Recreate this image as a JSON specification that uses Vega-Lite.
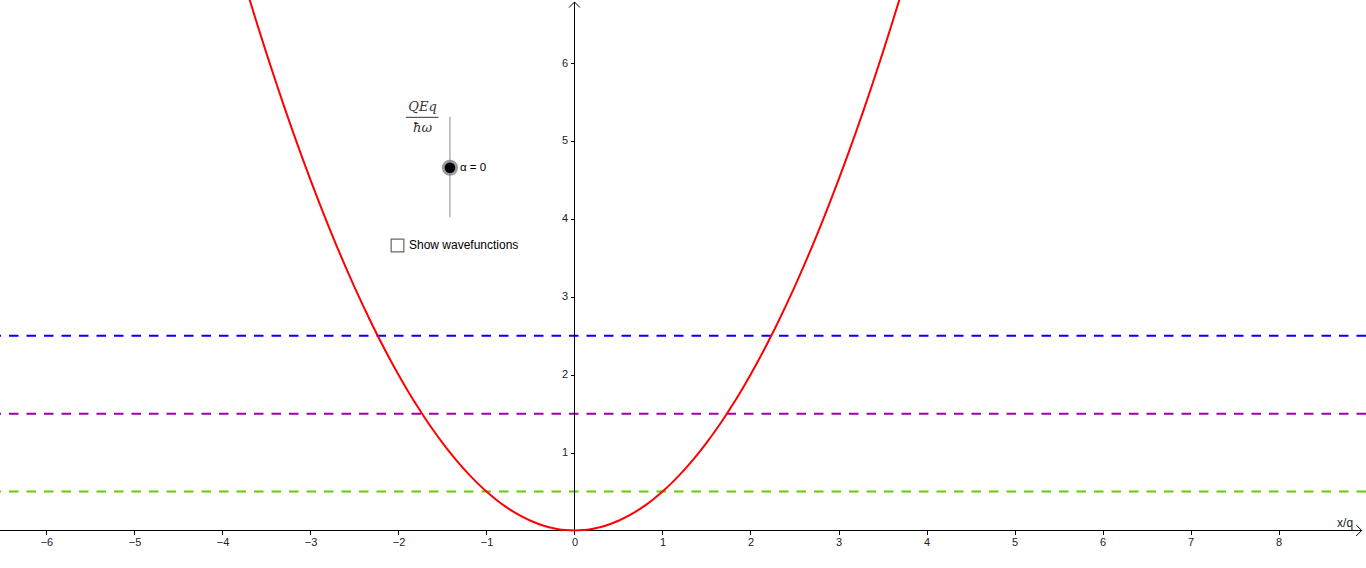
{
  "$schema": "https://vega.github.io/schema/vega-lite/v6.json",
  "width": 1366,
  "height": 568,
  "autosize": {"type": "none"},
  "padding": 0,
  "background": "white",
  "config": {"view": {"stroke": null}},
  "layer": [
    {
      "data": {"values": [
        {"E": 0.5, "level": "n0"},
        {"E": 1.5, "level": "n1"},
        {"E": 2.5, "level": "n2"}
      ]},
      "mark": {"type": "rule", "strokeWidth": 2, "strokeDash": [9.5, 8]},
      "encoding": {
        "y": {"field": "E", "type": "quantitative",
          "scale": {"domain": [-0.4814, 6.81], "nice": false, "zero": false},
          "axis": {"offset": -574.5, "values": [1, 2, 3, 4, 5, 6], "format": "d", "domain": false, "tickSize": 4, "labelPadding": 3, "grid": false, "title": null,
            "tickColor": "black", "labelFont": "Liberation Sans", "labelFontSize": 11, "labelColor": "#222",
            "labelFlush": false, "labelOverlap": false}},
        "color": {"field": "level", "type": "nominal", "legend": null,
          "scale": {"domain": ["n0", "n1", "n2"], "range": ["#66cc00", "#a000a8", "#0000ff"]}}
      }
    },
    {
      "data": {"values": [{"x": -6.528, "x2": 8.945, "y": 0}]},
      "mark": {"type": "rule", "color": "black", "strokeWidth": 1},
      "encoding": {"x": {"field": "x", "type": "quantitative"}, "x2": {"field": "x2"}, "y": {"field": "y", "type": "quantitative"}}
    },
    {
      "data": {"values": [{"x": 0, "y": 0, "y2": 6.784}]},
      "mark": {"type": "rule", "color": "black", "strokeWidth": 1},
      "encoding": {"x": {"field": "x", "type": "quantitative"}, "y": {"field": "y", "type": "quantitative"}, "y2": {"field": "y2"}}
    },
    {
      "data": {"values": [
        {"x": -3.8, "y": 7.22}, {"x": -3.7, "y": 6.845}, {"x": -3.6, "y": 6.48}, {"x": -3.5, "y": 6.125},
        {"x": -3.4, "y": 5.78}, {"x": -3.3, "y": 5.445}, {"x": -3.2, "y": 5.12}, {"x": -3.1, "y": 4.805},
        {"x": -3.0, "y": 4.5}, {"x": -2.9, "y": 4.205}, {"x": -2.8, "y": 3.92}, {"x": -2.7, "y": 3.645},
        {"x": -2.6, "y": 3.38}, {"x": -2.5, "y": 3.125}, {"x": -2.4, "y": 2.88}, {"x": -2.3, "y": 2.645},
        {"x": -2.2, "y": 2.42}, {"x": -2.1, "y": 2.205}, {"x": -2.0, "y": 2.0}, {"x": -1.9, "y": 1.805},
        {"x": -1.8, "y": 1.62}, {"x": -1.7, "y": 1.445}, {"x": -1.6, "y": 1.28}, {"x": -1.5, "y": 1.125},
        {"x": -1.4, "y": 0.98}, {"x": -1.3, "y": 0.845}, {"x": -1.2, "y": 0.72}, {"x": -1.1, "y": 0.605},
        {"x": -1.0, "y": 0.5}, {"x": -0.9, "y": 0.405}, {"x": -0.8, "y": 0.32}, {"x": -0.7, "y": 0.245},
        {"x": -0.6, "y": 0.18}, {"x": -0.5, "y": 0.125}, {"x": -0.4, "y": 0.08}, {"x": -0.3, "y": 0.045},
        {"x": -0.2, "y": 0.02}, {"x": -0.1, "y": 0.005}, {"x": 0.0, "y": 0.0},
        {"x": 0.1, "y": 0.005}, {"x": 0.2, "y": 0.02}, {"x": 0.3, "y": 0.045}, {"x": 0.4, "y": 0.08},
        {"x": 0.5, "y": 0.125}, {"x": 0.6, "y": 0.18}, {"x": 0.7, "y": 0.245}, {"x": 0.8, "y": 0.32},
        {"x": 0.9, "y": 0.405}, {"x": 1.0, "y": 0.5}, {"x": 1.1, "y": 0.605}, {"x": 1.2, "y": 0.72},
        {"x": 1.3, "y": 0.845}, {"x": 1.4, "y": 0.98}, {"x": 1.5, "y": 1.125}, {"x": 1.6, "y": 1.28},
        {"x": 1.7, "y": 1.445}, {"x": 1.8, "y": 1.62}, {"x": 1.9, "y": 1.805}, {"x": 2.0, "y": 2.0},
        {"x": 2.1, "y": 2.205}, {"x": 2.2, "y": 2.42}, {"x": 2.3, "y": 2.645}, {"x": 2.4, "y": 2.88},
        {"x": 2.5, "y": 3.125}, {"x": 2.6, "y": 3.38}, {"x": 2.7, "y": 3.645}, {"x": 2.8, "y": 3.92},
        {"x": 2.9, "y": 4.205}, {"x": 3.0, "y": 4.5}, {"x": 3.1, "y": 4.805}, {"x": 3.2, "y": 5.12},
        {"x": 3.3, "y": 5.445}, {"x": 3.4, "y": 5.78}, {"x": 3.5, "y": 6.125}, {"x": 3.6, "y": 6.48},
        {"x": 3.7, "y": 6.845}, {"x": 3.8, "y": 7.22}
      ]},
      "mark": {"type": "line", "color": "#ff0000", "strokeWidth": 2, "clip": true, "interpolate": "monotone"},
      "encoding": {
        "x": {"field": "x", "type": "quantitative",
          "scale": {"domain": [-6.528, 8.994], "nice": false, "zero": false},
          "axis": {"offset": -37.5, "values": [-6, -5, -4, -3, -2, -1, 0, 1, 2, 3, 4, 5, 6, 7, 8], "format": "d", "domain": false, "tickSize": 4, "labelPadding": 2, "grid": false, "title": null,
            "tickColor": "black", "labelFont": "Liberation Sans", "labelFontSize": 11, "labelColor": "#222",
            "labelFlush": false, "labelOverlap": false}},
        "y": {"field": "y", "type": "quantitative"}
      }
    },
    {
      "data": {"values": [{"x": 8.945, "y": 0}]},
      "mark": {"type": "point", "shape": "M-1,-1L0,0L-1,1", "size": 120, "filled": false, "stroke": "black", "strokeWidth": 1, "opacity": 1},
      "encoding": {"x": {"field": "x", "type": "quantitative"}, "y": {"field": "y", "type": "quantitative"}}
    },
    {
      "data": {"values": [{"x": 0, "y": 6.784}]},
      "mark": {"type": "point", "shape": "M-1,1L0,0L1,1", "size": 120, "filled": false, "stroke": "black", "strokeWidth": 1, "opacity": 1},
      "encoding": {"x": {"field": "x", "type": "quantitative"}, "y": {"field": "y", "type": "quantitative"}}
    },
    {
      "data": {"values": [{"x": 8.756, "y": 0.096, "t": "x/q"}]},
      "mark": {"type": "text", "font": "Liberation Sans", "fontSize": 12, "color": "#222", "align": "center", "baseline": "middle"},
      "encoding": {"x": {"field": "x", "type": "quantitative"}, "y": {"field": "y", "type": "quantitative"}, "text": {"field": "t"}}
    },
    {
      "data": {"values": [{"x": -1.415, "y": 5.312, "y2": 4.021}]},
      "mark": {"type": "rule", "color": "#8c8c8c", "strokeWidth": 1},
      "encoding": {"x": {"field": "x", "type": "quantitative"}, "y": {"field": "y", "type": "quantitative"}, "y2": {"field": "y2"}}
    },
    {
      "data": {"values": [{"x": -1.415, "y": 4.657}]},
      "mark": {"type": "point", "shape": "circle", "size": 260, "filled": true, "color": "#7a7a7a", "opacity": 0.75},
      "encoding": {"x": {"field": "x", "type": "quantitative"}, "y": {"field": "y", "type": "quantitative"}}
    },
    {
      "data": {"values": [{"x": -1.415, "y": 4.657}]},
      "mark": {"type": "point", "shape": "circle", "size": 113, "filled": true, "color": "black", "opacity": 1},
      "encoding": {"x": {"field": "x", "type": "quantitative"}, "y": {"field": "y", "type": "quantitative"}}
    },
    {
      "data": {"values": [{"x": -1.301, "y": 4.657, "t": "α = 0"}]},
      "mark": {"type": "text", "font": "Liberation Sans", "fontSize": 11.5, "color": "black", "align": "left", "baseline": "middle"},
      "encoding": {"x": {"field": "x", "type": "quantitative"}, "y": {"field": "y", "type": "quantitative"}, "text": {"field": "t"}}
    },
    {
      "data": {"values": [{"x": -1.881, "y": 3.665, "t": "Show wavefunctions"}]},
      "mark": {"type": "text", "font": "Liberation Sans", "fontSize": 12, "color": "black", "align": "left", "baseline": "middle"},
      "encoding": {"x": {"field": "x", "type": "quantitative"}, "y": {"field": "y", "type": "quantitative"}, "text": {"field": "t"}}
    },
    {
      "data": {"values": [{"x": -2.011, "y": 3.659}]},
      "mark": {"type": "point", "shape": "square", "size": 160, "filled": false, "fill": "white", "stroke": "#666666", "strokeWidth": 1.2, "opacity": 1},
      "encoding": {"x": {"field": "x", "type": "quantitative"}, "y": {"field": "y", "type": "quantitative"}}
    },
    {
      "data": {"values": [{"x": -1.915, "x2": -1.545, "y": 5.304}]},
      "mark": {"type": "rule", "color": "#333333", "strokeWidth": 1},
      "encoding": {"x": {"field": "x", "type": "quantitative"}, "x2": {"field": "x2"}, "y": {"field": "y", "type": "quantitative"}}
    },
    {
      "data": {"values": [{"x": -1.727, "y": 5.436, "t": "QEq"}, {"x": -1.727, "y": 5.167, "t": "ħω"}]},
      "mark": {"type": "text", "font": "DejaVu Serif", "fontStyle": "italic", "fontSize": 13, "color": "#333333", "align": "center", "baseline": "middle"},
      "encoding": {"x": {"field": "x", "type": "quantitative"}, "y": {"field": "y", "type": "quantitative"}, "text": {"field": "t"}}
    }
  ]
}
